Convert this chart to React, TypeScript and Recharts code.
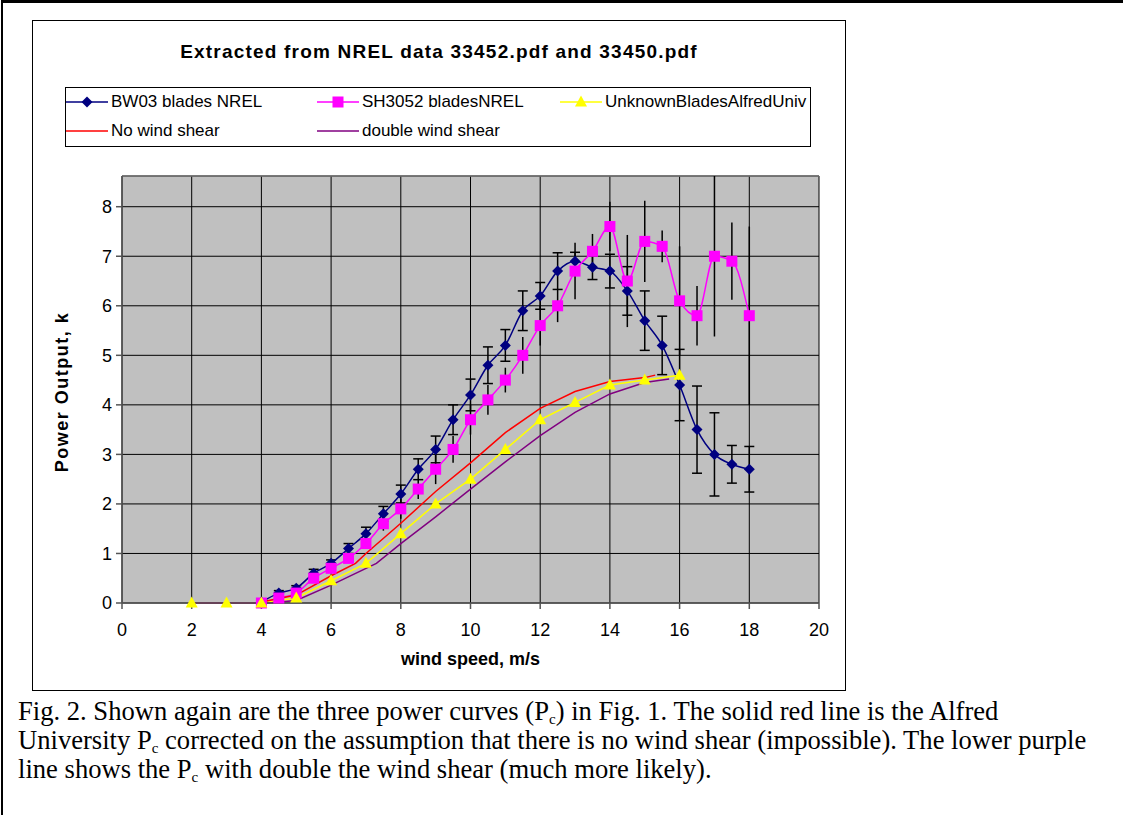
import React from "react"
import {
  LineChart,
  Line,
  XAxis,
  YAxis,
  CartesianGrid,
  ErrorBar,
  ReferenceLine,
} from "recharts"

// wind speed (m/s) for the two NREL measured curves
const nrelWind = [
  4, 4.5, 5, 5.5, 6, 6.5, 7, 7.5, 8, 8.5, 9, 9.5, 10, 10.5, 11, 11.5, 12,
  12.5, 13, 13.5, 14, 14.5, 15, 15.5, 16, 16.5, 17, 17.5, 18,
]
const bw03Power = [
  0.02, 0.2, 0.3, 0.6, 0.8, 1.1, 1.4, 1.8, 2.2, 2.7, 3.1, 3.7, 4.2, 4.8,
  5.2, 5.9, 6.2, 6.7, 6.9, 6.78, 6.7, 6.3, 5.7, 5.2, 4.4, 3.5, 3.0, 2.8, 2.7,
]
const bw03Err = [
  0.02, 0.05, 0.05, 0.08, 0.07, 0.1, 0.13, 0.15, 0.18, 0.21, 0.27, 0.3,
  0.32, 0.37, 0.32, 0.4, 0.27, 0.37, 0.18, 0.25, 0.34, 0.49, 0.6, 0.59, 0.72,
  0.88, 0.84, 0.38, 0.46,
]
const sh3052Power = [
  0.0, 0.1, 0.2, 0.5, 0.7, 0.9, 1.2, 1.6, 1.9, 2.3, 2.7, 3.1, 3.7, 4.1,
  4.5, 5.0, 5.6, 6.0, 6.7, 7.1, 7.6, 6.5, 7.3, 7.2, 6.1, 5.8, 7.0, 6.9, 5.8,
]
const sh3052Err = [
  0, 0.05, 0.05, 0.07, 0.07, 0.08, 0.1, 0.14, 0.2, 0.2, 0.3, 0.27,
  0.3, 0.3, 0.25, 0.37, 0.4, 0.33, 0.57, 0.35, 0.5, 0.93, 0.82, 0.32, 1.1, 0.6,
  1.62, 0.78, 1.8,
]

// Alfred University curve
const alfredWind = [2, 3, 4, 5, 6, 7, 8, 9, 10, 11, 12, 13, 14, 15, 16]
const alfredPower = [0, 0, 0, 0.1, 0.45, 0.8, 1.4, 2.0, 2.5, 3.1, 3.7, 4.05, 4.4, 4.5, 4.6]

// corrected curves
const noShearWind = [1.9, 2.9, 3.85, 5, 6, 6.7, 7, 8, 9, 10, 11, 12, 13, 14, 15, 15.3]
const noShearPower = [0, 0, 0, 0.16, 0.55, 0.8, 1.0, 1.61, 2.25, 2.83, 3.44, 3.93, 4.27, 4.47, 4.55, 4.6]
const doubleShearWind = [2.1, 3.15, 4.2, 5, 6, 7.3, 8, 9, 10, 11, 12, 13, 14, 15, 15.7]
const doubleShearPower = [0, 0, 0, 0.05, 0.36, 0.8, 1.2, 1.74, 2.3, 2.85, 3.38, 3.85, 4.22, 4.45, 4.52]

const xTicks = [0, 2, 4, 6, 8, 10, 12, 14, 16, 18, 20]
const yTicks = [0, 1, 2, 3, 4, 5, 6, 7, 8]
const Y_MAX = 8.62

const NAVY = "#000080"
const MAGENTA = "#FF00FF"
const YELLOW = "#FFFF00"
const RED = "#FF0000"
const PURPLE = "#800080"

const bw03Data = nrelWind.map((w, i) => ({ w, p: bw03Power[i], e: bw03Err[i] }))
const sh3052Data = nrelWind.map((w, i) => ({ w, p: sh3052Power[i], e: sh3052Err[i] }))
const alfredData = alfredWind.map((w, i) => ({ w, p: alfredPower[i] }))
const noShearData = noShearWind.map((w, i) => ({ w, p: noShearPower[i] }))
const doubleShearData = doubleShearWind.map((w, i) => ({ w, p: doubleShearPower[i] }))

const sans = "'Liberation Sans', Arial, sans-serif"
const serif = "'Liberation Serif', 'Times New Roman', serif"

function diamond(props: any) {
  const { cx, cy, index } = props
  if (cx == null || cy == null) return <g key={`d${index}`} />
  return (
    <path
      key={`d${index}`}
      d={`M${cx},${cy - 5.5} L${cx + 5.5},${cy} L${cx},${cy + 5.5} L${cx - 5.5},${cy} Z`}
      fill={NAVY}
    />
  )
}

function square(props: any) {
  const { cx, cy, index } = props
  if (cx == null || cy == null) return <g key={`s${index}`} />
  return <rect key={`s${index}`} x={cx - 5.5} y={cy - 5.5} width={11} height={11} fill={MAGENTA} />
}

function triangle(props: any) {
  const { cx, cy, index } = props
  if (cx == null || cy == null) return <g key={`t${index}`} />
  return (
    <path
      key={`t${index}`}
      d={`M${cx},${cy - 6.5} L${cx + 6},${cy + 4.5} L${cx - 6},${cy + 4.5} Z`}
      fill={YELLOW}
    />
  )
}

function LegendItem({
  left,
  top,
  color,
  label,
  marker,
}: {
  left: number
  top: number
  color: string
  label: string
  marker?: string
}) {
  return (
    <div style={{ position: "absolute", left, top, display: "flex", alignItems: "center", height: 20 }}>
      <svg width={42} height={14} style={{ marginRight: 3 }}>
        <line x1={0} y1={7} x2={42} y2={7} stroke={color} strokeWidth={1.5} />
        {marker === "diamond" && <path d="M21,1.5 L26.5,7 L21,12.5 L15.5,7 Z" fill={color} />}
        {marker === "square" && <rect x={15.5} y={1.5} width={11} height={11} fill={color} />}
        {marker === "triangle" && <path d="M21,0.5 L27,11.5 L15,11.5 Z" fill={color} />}
      </svg>
      <span style={{ whiteSpace: "nowrap" }}>{label}</span>
    </div>
  )
}

const sub = { fontSize: 15, verticalAlign: "-4px", lineHeight: 0 } as const

export default function App() {
  return (
    <div
      style={{
        position: "absolute",
        left: 0,
        top: 0,
        width: 1123,
        height: 815,
        background: "#fff",
        fontFamily: sans,
        overflow: "hidden",
      }}
    >
      {/* page frame */}
      <div
        style={{
          position: "absolute",
          left: 1,
          top: 0,
          width: 1130,
          height: 830,
          borderTop: "3px solid #000",
          borderLeft: "2px solid #000",
        }}
      />
      {/* chart frame */}
      <div
        style={{
          position: "absolute",
          left: 32,
          top: 20,
          width: 812,
          height: 669,
          border: "1px solid #000",
        }}
      />
      <div
        style={{
          position: "absolute",
          left: 32,
          width: 814,
          top: 41,
          textAlign: "center",
          fontWeight: "bold",
          fontSize: 19,
          letterSpacing: 1.2,
          whiteSpace: "nowrap",
        }}
      >
        Extracted from NREL data 33452.pdf and 33450.pdf
      </div>

      {/* legend */}
      <div
        style={{
          position: "absolute",
          left: 65,
          top: 87,
          width: 746,
          height: 60,
          border: "1px solid #000",
          fontSize: 17,
          boxSizing: "border-box",
        }}
      >
        <LegendItem left={0} top={4} color={NAVY} label="BW03 blades NREL" marker="diamond" />
        <LegendItem left={0} top={33} color={RED} label="No wind shear" />
        <LegendItem left={251} top={4} color={MAGENTA} label="SH3052 bladesNREL" marker="square" />
        <LegendItem left={251} top={33} color={PURPLE} label="double wind shear" />
        <LegendItem left={494} top={4} color={YELLOW} label="UnknownBladesAlfredUniv" marker="triangle" />
      </div>

      <div style={{ position: "absolute", left: 0, top: 0 }}>
        <LineChart
          width={1123}
          height={815}
          margin={{ top: 176, right: 304, bottom: 182, left: 62 }}
        >
          <CartesianGrid
            stroke="#000"
            strokeWidth={1}
            fill="#C0C0C0"
            fillOpacity={1}
          />
          <XAxis
            dataKey="w"
            type="number"
            domain={[0, 20]}
            ticks={xTicks}
            height={30}
            stroke="#555"
            strokeWidth={1.5}
            tickSize={6}
            tickMargin={14}
            tick={{ fill: "#000", fontSize: 18, fontFamily: sans }}
          />
          <YAxis
            type="number"
            domain={[0, Y_MAX]}
            ticks={yTicks}
            width={60}
            stroke="#555"
            strokeWidth={1.5}
            tickSize={6}
            tickMargin={4}
            tick={{ fill: "#000", fontSize: 18, fontFamily: sans }}
          />
          <ReferenceLine y={Y_MAX} stroke="#777" strokeWidth={1.5} />
          <Line
            data={bw03Data}
            dataKey="p"
            type="monotone"
            stroke={NAVY}
            strokeWidth={1.5}
            dot={diamond}
            activeDot={false}
            isAnimationActive={false}
          >
            <ErrorBar dataKey="e" direction="y" width={5} stroke="#000" strokeWidth={1.5} />
          </Line>
          <Line
            data={sh3052Data}
            dataKey="p"
            type="monotone"
            stroke={MAGENTA}
            strokeWidth={1.5}
            dot={square}
            activeDot={false}
            isAnimationActive={false}
          >
            <ErrorBar dataKey="e" direction="y" width={0} stroke="#000" strokeWidth={1.5} />
          </Line>
          <Line
            data={alfredData}
            dataKey="p"
            type="linear"
            stroke={YELLOW}
            strokeWidth={1.5}
            dot={triangle}
            activeDot={false}
            isAnimationActive={false}
          />
          <Line
            data={noShearData}
            dataKey="p"
            type="linear"
            stroke={RED}
            strokeWidth={1.5}
            dot={false}
            activeDot={false}
            isAnimationActive={false}
          />
          <Line
            data={doubleShearData}
            dataKey="p"
            type="linear"
            stroke={PURPLE}
            strokeWidth={1.5}
            dot={false}
            activeDot={false}
            isAnimationActive={false}
          />
        </LineChart>
      </div>

      {/* axis titles */}
      <div
        style={{
          position: "absolute",
          left: 62,
          top: 392,
          transform: "translate(-50%, -50%) rotate(-90deg)",
          fontWeight: "bold",
          fontSize: 18,
          letterSpacing: 1.5,
          whiteSpace: "nowrap",
        }}
      >
        Power Output, k
      </div>
      <div
        style={{
          position: "absolute",
          left: 122,
          width: 697,
          top: 649,
          textAlign: "center",
          fontWeight: "bold",
          fontSize: 18,
        }}
      >
        wind speed, m/s
      </div>

      {/* caption */}
      <div
        style={{
          position: "absolute",
          left: 18,
          top: 697,
          fontFamily: serif,
          fontSize: 26.6,
          lineHeight: "29px",
          whiteSpace: "nowrap",
        }}
      >
        Fig. 2. Shown again are the three power curves (P<span style={sub}>c</span>) in Fig. 1. The solid red
        line is the Alfred
        <br />
        University P<span style={sub}>c</span> corrected on the assumption that there is no wind shear
        (impossible). The lower purple
        <br />
        line shows the P<span style={sub}>c</span> with double the wind shear (much more likely).
      </div>
    </div>
  )
}
